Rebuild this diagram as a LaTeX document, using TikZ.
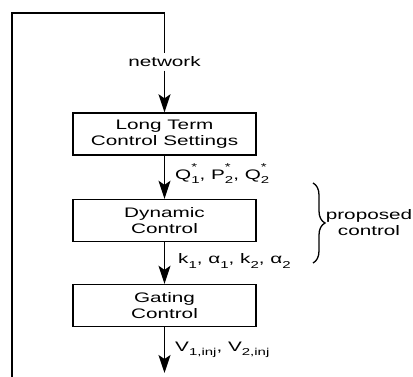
\documentclass[tikz,border=0pt]{standalone}
\usepackage{fontspec}
\setmainfont[FakeStretch=1.5]{Liberation Sans}
\usetikzlibrary{arrows.meta,decorations.pathreplacing}
\newcommand\scr{\fontsize{10}{10}\selectfont}
\newcommand\subsup[2]{\rlap{\raisebox{0.62em}{\scr #2}}\raisebox{-0.32em}{\scr #1}}
\newcommand\sub[1]{\raisebox{-0.32em}{\scr #1}}

\begin{document}
\begin{tikzpicture}[x=1pt,y=-1pt,font=\fontsize{13.8}{16}\selectfont,
  block/.style={draw,line width=1.4pt,minimum width=183pt,minimum height=42pt,align=center,inner sep=0pt},
  lbl/.style={anchor=west,inner sep=0pt},
  flow/.style={line width=1.8pt,-{Stealth[length=18pt,width=12pt,inset=4pt]}}]
\useasboundingbox (0,0) rectangle (413,377);
\node (net) at (164.5,62) {network};
\node [block] (lt) at (164.5,134) {Long Term\\Control Settings};
\node [block] (dyn) at (164.5,220.5) {Dynamic\\Control};
\node [block] (gate) at (164.5,305.5) {Gating\\Control};
\coordinate (out) at (164.5,373);
\coordinate (tl) at (12,13);
\coordinate (bl) at (12,378);
% feedback loop
\draw [line width=1.8pt] (bl) -- (tl) -| (net.north);
\draw [flow] (net) -- (lt);
\draw [flow] (lt) -- (dyn);
\draw [flow] (dyn) -- (gate);
\draw [flow] (gate) -- (out);
\node [lbl] (q) at (175,174) {Q\subsup{1}{*}, P\subsup{2}{*}, Q\subsup{2}{*}};
\node [lbl] (k) at (178,261) {k\sub{1}, α\sub{1}, k\sub{2}, α\sub{2}};
\node [lbl] (v) at (175,350) {V\sub{1,inj}, V\sub{2,inj}};
\draw [line width=1.3pt,decorate,decoration={brace,amplitude=12pt}] (313,183) -- (313,263);
\node [align=center,inner sep=0pt] (prop) at (369,223) {proposed\\control};
\end{tikzpicture}
\end{document}
